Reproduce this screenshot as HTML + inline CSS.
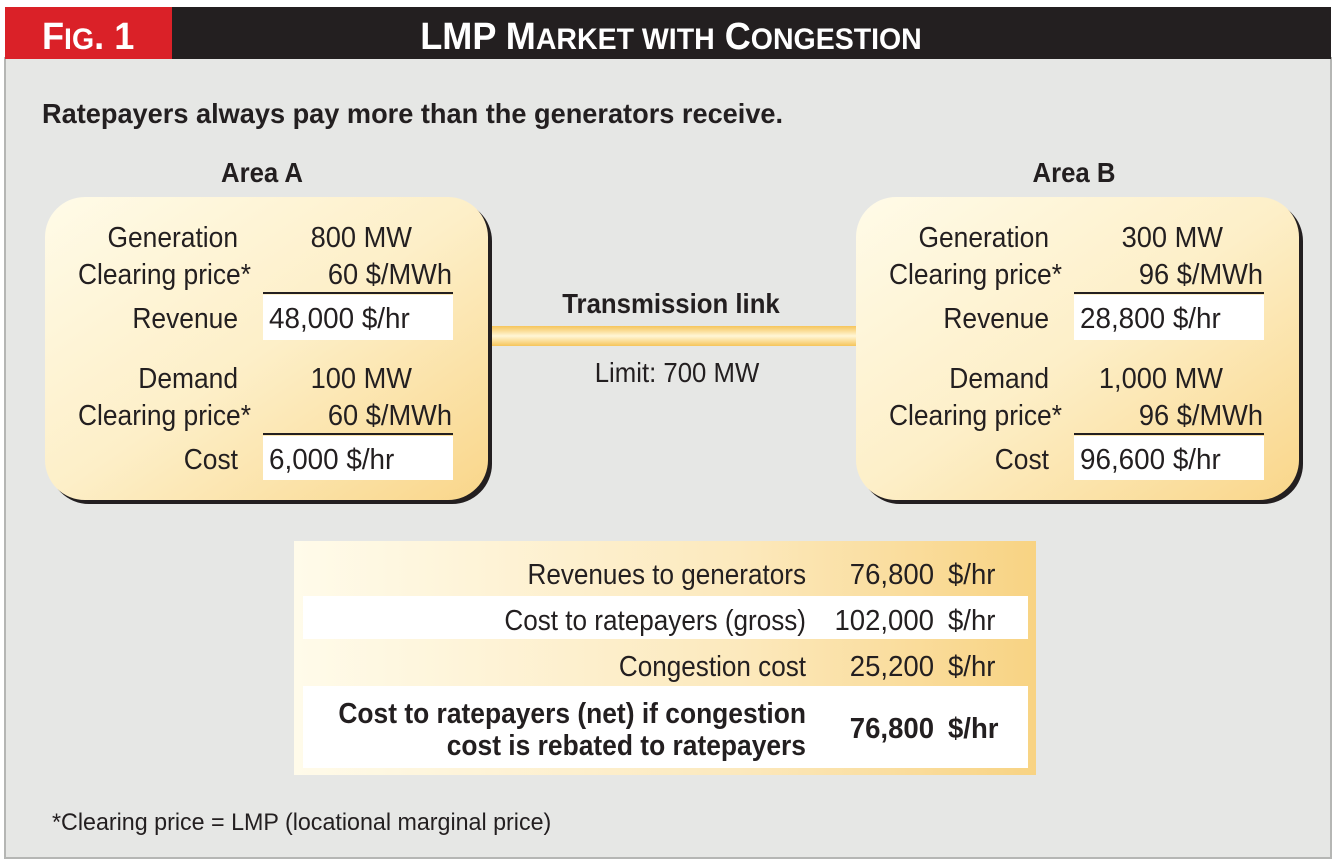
<!DOCTYPE html>
<html><head><style>
body{margin:0;background:#fff;}
svg{display:block;}
text{font-family:"Liberation Sans",sans-serif;fill:#231f20;}
.b{font-weight:bold;}
</style></head><body>
<svg width="1344" height="865" viewBox="0 0 1344 865">
<defs>
<linearGradient id="g" x1="0" y1="0" x2="1" y2="1">
<stop offset="0" stop-color="#fffbe8"/><stop offset="0.5" stop-color="#fdefc8"/><stop offset="1" stop-color="#f9d68a"/>
</linearGradient>
<linearGradient id="t" x1="0" y1="0" x2="1" y2="0">
<stop offset="0" stop-color="#fffbea"/><stop offset="0.6" stop-color="#fce9bd"/><stop offset="1" stop-color="#f8d383"/>
</linearGradient>
<linearGradient id="l" x1="0" y1="0" x2="0" y2="1">
<stop offset="0" stop-color="#f6c55a"/><stop offset="0.5" stop-color="#fff6d6"/><stop offset="1" stop-color="#f6c55a"/>
</linearGradient>
</defs>
<rect x="5" y="58" width="1326" height="800" fill="#e6e7e5" stroke="#b5b6b4" stroke-width="2"/>
<rect x="5" y="7" width="167" height="52" fill="#da2128"/>
<rect x="172" y="7" width="1159" height="52" fill="#231f20"/>
<text transform="translate(42 49) scale(0.95 1)" class="b" style="fill:#fff;font-size:38px">F<tspan font-size="30">IG</tspan>. 1</text>
<text transform="translate(671 49) scale(0.95 1)" text-anchor="middle" class="b" style="fill:#fff;font-size:38px">LMP M<tspan font-size="30">ARKET WITH</tspan> C<tspan font-size="30">ONGESTION</tspan></text>
<text transform="translate(42 123) scale(0.97 1)" class="b" style="font-size:28px">Ratepayers always pay more than the generators receive.</text>
<text transform="translate(262 182) scale(0.92 1)" text-anchor="middle" class="b" style="font-size:28px">Area A</text>
<text transform="translate(1074 182) scale(0.92 1)" text-anchor="middle" class="b" style="font-size:28px">Area B</text>
<rect x="490" y="326" width="366" height="20" fill="url(#l)"/>
<text transform="translate(671 313) scale(0.92 1)" text-anchor="middle" class="b" style="font-size:28px">Transmission link</text>
<text transform="translate(677 382) scale(0.92 1)" text-anchor="middle" style="font-size:28px">Limit: 700 MW</text>
<g id="A">
<rect x="49" y="201" width="443" height="303" rx="40" fill="#231f20"/>
<rect x="45" y="197" width="443" height="303" rx="40" fill="url(#g)"/>
<g style="font-size:29px" text-anchor="end">
<text transform="translate(238 247) scale(0.91 1)">Generation</text>
<text transform="translate(251 284) scale(0.91 1)">Clearing price*</text>
<text transform="translate(238 328) scale(0.91 1)">Revenue</text>
<text transform="translate(238 388) scale(0.91 1)">Demand</text>
<text transform="translate(251 425) scale(0.91 1)">Clearing price*</text>
<text transform="translate(238 469) scale(0.91 1)">Cost</text>
</g>
<rect x="263" y="295" width="190" height="45" fill="#fff"/>
<rect x="263" y="436" width="190" height="44" fill="#fff"/>
<line x1="263" y1="293" x2="453" y2="293" stroke="#231f20" stroke-width="2"/>
<line x1="263" y1="434" x2="453" y2="434" stroke="#231f20" stroke-width="2"/>
</g>
<g style="font-size:29px">
<text transform="translate(412 247) scale(0.94 1)" text-anchor="end">800 MW</text>
<text transform="translate(452 284) scale(0.94 1)" text-anchor="end">60 $/MWh</text>
<text transform="translate(269 328) scale(0.96 1)">48,000 $/hr</text>
<text transform="translate(412 388) scale(0.94 1)" text-anchor="end">100 MW</text>
<text transform="translate(452 425) scale(0.94 1)" text-anchor="end">60 $/MWh</text>
<text transform="translate(269 469) scale(0.96 1)">6,000 $/hr</text>
</g>
<use href="#A" x="811"/>
<g style="font-size:29px">
<text transform="translate(1223 247) scale(0.94 1)" text-anchor="end">300 MW</text>
<text transform="translate(1263 284) scale(0.94 1)" text-anchor="end">96 $/MWh</text>
<text transform="translate(1080 328) scale(0.96 1)">28,800 $/hr</text>
<text transform="translate(1223 388) scale(0.94 1)" text-anchor="end">1,000 MW</text>
<text transform="translate(1263 425) scale(0.94 1)" text-anchor="end">96 $/MWh</text>
<text transform="translate(1080 469) scale(0.96 1)">96,600 $/hr</text>
</g>
<rect x="294" y="541" width="742" height="234" fill="url(#t)"/>
<rect x="303" y="596" width="725" height="43" fill="#fff"/>
<rect x="303" y="686" width="725" height="82" fill="#fff"/>
<g style="font-size:29px">
<text transform="translate(806 584) scale(0.9 1)" text-anchor="end">Revenues to generators</text>
<text transform="translate(934 584) scale(0.95 1)" text-anchor="end">76,800</text><text transform="translate(948 584) scale(0.95 1)">$/hr</text>
<text transform="translate(806 630) scale(0.9 1)" text-anchor="end">Cost to ratepayers (gross)</text>
<text transform="translate(934 630) scale(0.95 1)" text-anchor="end">102,000</text><text transform="translate(948 630) scale(0.95 1)">$/hr</text>
<text transform="translate(806 676) scale(0.9 1)" text-anchor="end">Congestion cost</text>
<text transform="translate(934 676) scale(0.95 1)" text-anchor="end">25,200</text><text transform="translate(948 676) scale(0.95 1)">$/hr</text>
<g class="b">
<text transform="translate(806 723) scale(0.91 1)" text-anchor="end">Cost to ratepayers (net) if congestion</text>
<text transform="translate(806 755) scale(0.91 1)" text-anchor="end">cost is rebated to ratepayers</text>
<text transform="translate(934 738) scale(0.95 1)" text-anchor="end">76,800</text><text transform="translate(948 738) scale(0.95 1)">$/hr</text>
</g>
</g>
<text transform="translate(52 830) scale(0.97 1)" style="font-size:24px">*Clearing price = LMP (locational marginal price)</text>
</svg>
</body></html>
